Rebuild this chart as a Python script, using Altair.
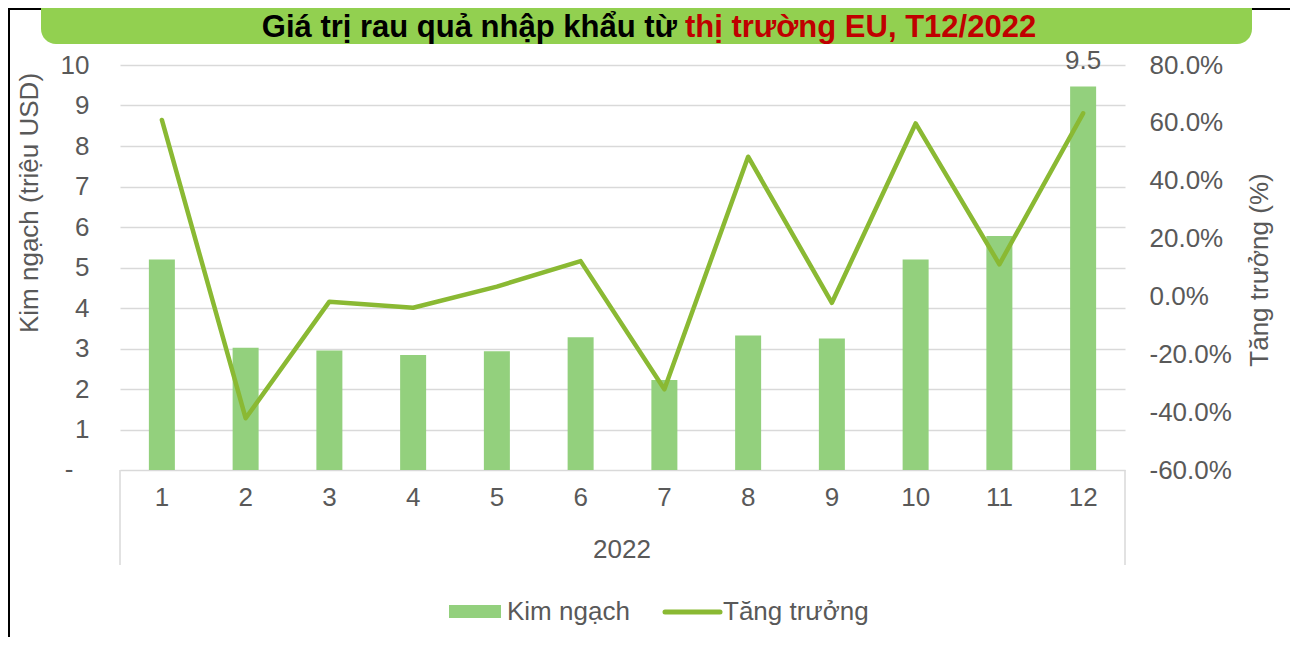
import altair as alt
import pandas as pd

# ---- data ----
thang = ["1", "2", "3", "4", "5", "6", "7", "8", "9", "10", "11", "12"]
kim_ngach = [5.2, 3.02, 2.95, 2.84, 2.93, 3.28, 2.22, 3.32, 3.25, 5.2, 5.78, 9.47]
tang_truong = [0.610, -0.421, -0.018, -0.039, 0.034, 0.122, -0.321, 0.483, -0.022, 0.598, 0.111, 0.633]
left_ticks = [1, 2, 3, 4, 5, 6, 7, 8, 9, 10]
right_ticks = [-0.6, -0.4, -0.2, 0.0, 0.2, 0.4, 0.6, 0.8]

df = pd.DataFrame({"thang": thang, "kim": kim_ngach, "tang": tang_truong})

BAR = "#93D07D"
LINE = "#8AB933"
GRID = "#D9D9D9"
TXT = "#595959"
FONT = "Liberation Sans"
FS = 26
TFONT = "Liberation Sans"
TFS = 31

def one(s=""):
    return alt.Chart(pd.DataFrame({"t": [s]}))

x_enc = alt.X(
    "thang:N", sort=thang,
    scale=alt.Scale(paddingInner=0, paddingOuter=0),
    axis=alt.Axis(title=None, labelAngle=0, labelFontSize=FS, labelColor=TXT,
                  labelFont=FONT, ticks=False, domainColor=GRID, domainWidth=1.5,
                  labelPadding=14, grid=False),
)

base = alt.Chart(df)

bars = base.mark_bar(size=26, color=BAR).encode(
    x=x_enc,
    y=alt.Y("kim:Q", scale=alt.Scale(domain=[0, 10], nice=False, zero=True),
            axis=alt.Axis(values=left_ticks, title=None, grid=True, gridColor=GRID,
                          gridWidth=1.5, domain=False, ticks=False, labelFontSize=FS,
                          labelFont=FONT, labelColor=TXT, labelPadding=31)),
)
bar_label = base.transform_filter(alt.datum.thang == "12").mark_text(
    baseline="alphabetic", dy=-17, fontSize=FS, font=FONT, color=TXT
).encode(x=x_enc, y=alt.Y("kim:Q"), text=alt.Text("kim:Q", format=".1f"))

left = alt.layer(bars, bar_label)

line = base.mark_line(color=LINE, strokeWidth=4.5, strokeCap="round", strokeJoin="round").encode(
    x=x_enc,
    y=alt.Y("tang:Q", scale=alt.Scale(domain=[-0.6, 0.8], nice=False, zero=False),
            axis=alt.Axis(orient="right", values=right_ticks, title=None, grid=False,
                          domain=False, ticks=False, labelFontSize=FS, labelFont=FONT,
                          labelColor=TXT, labelPadding=24,
                          labelExpr="(datum.value < -0.0001 ? '-' : '') + format(abs(datum.value), '.1%')")),
)

# ---- decorations ----
border = one().mark_rect(filled=False, stroke="black", strokeWidth=2).encode(
    x=alt.value(-111), x2=alt.value(1400), y=alt.value(-56), y2=alt.value(800))
title_box = one().mark_rect(cornerRadius=15, color="#92D050").encode(
    x=alt.value(-79), x2=alt.value(1132), y=alt.value(-100), y2=alt.value(-21))
title_black = one().mark_text(font=TFONT, fontWeight="bold", fontSize=TFS, align="right",
                              baseline="alphabetic", color="black").encode(
    x=alt.value(557), y=alt.value(-28), text=alt.value("Giá trị rau quả nhập khẩu từ"))
title_red = one().mark_text(font=TFONT, fontWeight="bold", fontSize=TFS, align="left",
                            baseline="alphabetic", color="#C00000").encode(
    x=alt.value(565), y=alt.value(-28), text=alt.value("thị trường EU, T12/2022"))

ytitle_l = one().mark_text(angle=270, fontSize=FS, font=FONT, color=TXT,
                           align="center", baseline="middle").encode(
    x=alt.value(-90), y=alt.value(138), text=alt.value("Kim ngạch (triệu USD)"))
ytitle_r = one().mark_text(angle=270, fontSize=FS, font=FONT, color=TXT,
                           align="center", baseline="middle").encode(
    x=alt.value(1140), y=alt.value(205), text=alt.value("Tăng trưởng (%)"))
zero_lbl = one().mark_text(fontSize=FS, font=FONT, color=TXT, align="center",
                           baseline="middle").encode(
    x=alt.value(-51), y=alt.value(405), text=alt.value("-"))
year_lbl = one().mark_text(fontSize=FS, font=FONT, color=TXT, align="center",
                           baseline="middle").encode(
    x=alt.value(502), y=alt.value(485), text=alt.value("2022"))
sep_l = one().mark_rule(color=GRID, strokeWidth=1.5).encode(
    x=alt.value(0), y=alt.value(405), y2=alt.value(500))
sep_r = one().mark_rule(color=GRID, strokeWidth=1.5).encode(
    x=alt.value(1005), y=alt.value(405), y2=alt.value(500))

leg_rect = one().mark_rect(color=BAR).encode(
    x=alt.value(329), x2=alt.value(381), y=alt.value(540), y2=alt.value(553))
leg_t1 = one().mark_text(fontSize=FS, font=FONT, color=TXT, align="left",
                         baseline="middle").encode(
    x=alt.value(387), y=alt.value(547), text=alt.value("Kim ngạch"))
leg_line = one().mark_rule(color=LINE, strokeWidth=5, strokeCap="round").encode(
    x=alt.value(545), x2=alt.value(600), y=alt.value(547))
leg_t2 = one().mark_text(fontSize=FS, font=FONT, color=TXT, align="left",
                         baseline="middle").encode(
    x=alt.value(603), y=alt.value(547), text=alt.value("Tăng trưởng"))

chart = alt.layer(
    border, left, line, title_box, title_black, title_red,
    ytitle_l, ytitle_r, zero_lbl, year_lbl, sep_l, sep_r,
    leg_rect, leg_t1, leg_line, leg_t2,
).resolve_scale(y="independent").properties(
    width=1005, height=405, autosize="none",
    padding={"left": 112, "top": 57, "right": 165, "bottom": 167},
).configure_view(stroke="transparent")

chart.save("out.html", embed_options={"renderer": "svg", "actions": False})
